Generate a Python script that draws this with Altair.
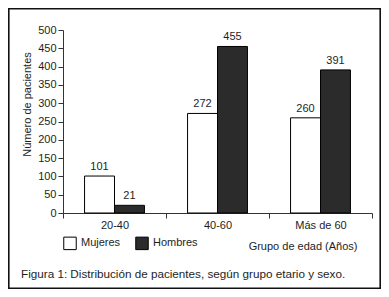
import altair as alt
import pandas as pd

groups = ["20-40", "40-60", "Más de 60"]
mujeres = [101, 272, 260]
hombres = [21, 455, 391]
sexes = ["Mujeres", "Hombres"]
y_ticks = [0, 50, 100, 150, 200, 250, 300, 350, 400, 450, 500]

rows = []
for g, m, h in zip(groups, mujeres, hombres):
    rows.append({"grupo": g, "sexo": "Mujeres", "n": m})
    rows.append({"grupo": g, "sexo": "Hombres", "n": h})
df = pd.DataFrame(rows)

FONT = "Liberation Sans"
INK = "#1e1e1e"

x_enc = alt.X(
    "grupo:N",
    sort=groups,
    scale=alt.Scale(paddingInner=0, paddingOuter=0),
    axis=alt.Axis(
        title="Grupo de edad (Años)",
        labelAngle=0,
        tickBand="extent",
        tickSize=5,
        labelPadding=1,
        titleX=294,
        titleY=36,
        titleAlign="right",
        titleBaseline="alphabetic",
        titleFontWeight="normal",
    ),
)
xoff = alt.XOffset("sexo:N", sort=sexes, scale=alt.Scale(paddingInner=0, paddingOuter=0.72))
y_enc = alt.Y(
    "n:Q",
    scale=alt.Scale(domain=[0, 500], nice=False),
    axis=alt.Axis(
        title="Número de pacientes",
        values=y_ticks,
        tickCount=11,
        labelOverlap=False,
        grid=False,
        tickSize=5,
        labelPadding=2,
        titleX=-36,
        titleY=74,
        titleBaseline="middle",
        titleFontWeight="normal",
    ),
)

bars = alt.Chart(df).mark_bar(stroke="black", strokeWidth=1).encode(
    x=x_enc,
    xOffset=xoff,
    y=y_enc,
    fill=alt.Fill(
        "sexo:N",
        sort=sexes,
        scale=alt.Scale(domain=sexes, range=["white", "#2b2b2b"]),
        legend=alt.Legend(
            title=None,
            orient="none",
            legendX=0,
            legendY=206,
            direction="horizontal",
            symbolType="square",
            symbolSize=156,
            symbolStrokeColor="black",
            symbolStrokeWidth=1,
            labelFontSize=11,
            labelFont=FONT,
            labelColor=INK,
            labelOffset=4,
            columnPadding=12,
            padding=0,
        ),
    ),
)

labels = alt.Chart(df).mark_text(
    dy=-6, baseline="alphabetic", fontSize=11, font=FONT, color=INK
).encode(x=x_enc, xOffset=xoff, y=y_enc, text="n:Q")

frame_df = pd.DataFrame({"k": [0]})
frame = alt.Chart(frame_df).mark_rect(fill=None, stroke="#111", strokeWidth=1.6).encode(
    x=alt.value(-54.2), x2=alt.value(317.2), y=alt.value(-21.2), y2=alt.value(258.2)
)

caption = alt.Chart(frame_df).mark_text(
    align="left", baseline="alphabetic", fontSize=11.7, font=FONT, color=INK,
    text="Figura 1: Distribución de pacientes, según grupo etario y sexo.",
).encode(x=alt.value(-42), y=alt.value(248))

chart = alt.layer(bars, labels, frame, caption).properties(
    width=309,
    height=183,
    autosize=alt.AutoSizeParams(type="none"),
    padding={"left": 55, "top": 22, "right": 9, "bottom": 76},
    background="white",
).configure_view(stroke=None).configure_axis(
    labelFont=FONT, titleFont=FONT, labelFontSize=11, titleFontSize=11,
    labelColor=INK, titleColor=INK, domainColor="#333", tickColor="#333",
)

chart.save("out.html", embed_options={"renderer": "svg", "actions": False})
